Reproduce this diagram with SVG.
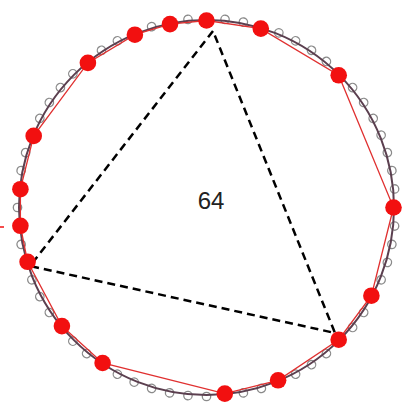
<svg xmlns="http://www.w3.org/2000/svg" width="405" height="405" viewBox="0 0 405 405">
<style>
.g{fill:#fff;stroke:#8a8a8a;stroke-width:1.3}
.r{fill:#f21010}
.ring{fill:none;stroke:#5b3f4f;stroke-width:2}
.poly{fill:none;stroke:#e03030;stroke-width:1.3}
.tri{fill:none;stroke:#000;stroke-width:2.5;stroke-dasharray:8 5}
.lbl{font-family:"Liberation Sans",Arial,sans-serif;font-size:24px;fill:#222;text-anchor:middle}
</style>
<defs>
<circle id="gc" class="g" cx="395.5" cy="207.5" r="4.2"/>
</defs>
<rect width="405" height="405" fill="#fff"/>
<g id="ring-nodes">
<use href="#gc" transform="rotate(0 206.5 207.5)"/><use href="#gc" transform="rotate(5.625 206.5 207.5)"/><use href="#gc" transform="rotate(11.25 206.5 207.5)"/><use href="#gc" transform="rotate(16.875 206.5 207.5)"/>
<use href="#gc" transform="rotate(22.5 206.5 207.5)"/><use href="#gc" transform="rotate(28.125 206.5 207.5)"/><use href="#gc" transform="rotate(33.75 206.5 207.5)"/><use href="#gc" transform="rotate(39.375 206.5 207.5)"/>
<use href="#gc" transform="rotate(45 206.5 207.5)"/><use href="#gc" transform="rotate(50.625 206.5 207.5)"/><use href="#gc" transform="rotate(56.25 206.5 207.5)"/><use href="#gc" transform="rotate(61.875 206.5 207.5)"/>
<use href="#gc" transform="rotate(67.5 206.5 207.5)"/><use href="#gc" transform="rotate(73.125 206.5 207.5)"/><use href="#gc" transform="rotate(78.75 206.5 207.5)"/><use href="#gc" transform="rotate(84.375 206.5 207.5)"/>
<use href="#gc" transform="rotate(90 206.5 207.5)"/><use href="#gc" transform="rotate(95.625 206.5 207.5)"/><use href="#gc" transform="rotate(101.25 206.5 207.5)"/><use href="#gc" transform="rotate(106.875 206.5 207.5)"/>
<use href="#gc" transform="rotate(112.5 206.5 207.5)"/><use href="#gc" transform="rotate(118.125 206.5 207.5)"/><use href="#gc" transform="rotate(123.75 206.5 207.5)"/><use href="#gc" transform="rotate(129.375 206.5 207.5)"/>
<use href="#gc" transform="rotate(135 206.5 207.5)"/><use href="#gc" transform="rotate(140.625 206.5 207.5)"/><use href="#gc" transform="rotate(146.25 206.5 207.5)"/><use href="#gc" transform="rotate(151.875 206.5 207.5)"/>
<use href="#gc" transform="rotate(157.5 206.5 207.5)"/><use href="#gc" transform="rotate(163.125 206.5 207.5)"/><use href="#gc" transform="rotate(168.75 206.5 207.5)"/><use href="#gc" transform="rotate(174.375 206.5 207.5)"/>
<use href="#gc" transform="rotate(180 206.5 207.5)"/><use href="#gc" transform="rotate(185.625 206.5 207.5)"/><use href="#gc" transform="rotate(191.25 206.5 207.5)"/><use href="#gc" transform="rotate(196.875 206.5 207.5)"/>
<use href="#gc" transform="rotate(202.5 206.5 207.5)"/><use href="#gc" transform="rotate(208.125 206.5 207.5)"/><use href="#gc" transform="rotate(213.75 206.5 207.5)"/><use href="#gc" transform="rotate(219.375 206.5 207.5)"/>
<use href="#gc" transform="rotate(225 206.5 207.5)"/><use href="#gc" transform="rotate(230.625 206.5 207.5)"/><use href="#gc" transform="rotate(236.25 206.5 207.5)"/><use href="#gc" transform="rotate(241.875 206.5 207.5)"/>
<use href="#gc" transform="rotate(247.5 206.5 207.5)"/><use href="#gc" transform="rotate(253.125 206.5 207.5)"/><use href="#gc" transform="rotate(258.75 206.5 207.5)"/><use href="#gc" transform="rotate(264.375 206.5 207.5)"/>
<use href="#gc" transform="rotate(270 206.5 207.5)"/><use href="#gc" transform="rotate(275.625 206.5 207.5)"/><use href="#gc" transform="rotate(281.25 206.5 207.5)"/><use href="#gc" transform="rotate(286.875 206.5 207.5)"/>
<use href="#gc" transform="rotate(292.5 206.5 207.5)"/><use href="#gc" transform="rotate(298.125 206.5 207.5)"/><use href="#gc" transform="rotate(303.75 206.5 207.5)"/><use href="#gc" transform="rotate(309.375 206.5 207.5)"/>
<use href="#gc" transform="rotate(315 206.5 207.5)"/><use href="#gc" transform="rotate(320.625 206.5 207.5)"/><use href="#gc" transform="rotate(326.25 206.5 207.5)"/><use href="#gc" transform="rotate(331.875 206.5 207.5)"/>
<use href="#gc" transform="rotate(337.5 206.5 207.5)"/><use href="#gc" transform="rotate(343.125 206.5 207.5)"/><use href="#gc" transform="rotate(348.75 206.5 207.5)"/><use href="#gc" transform="rotate(354.375 206.5 207.5)"/>
</g>
<g id="connectors">
<circle class="ring" cx="206.5" cy="207.5" r="187.5"/>
<polygon class="poly" points="393.5,207.5 371.4,295.7 338.7,339.7 278.1,380.3 224.8,393.6 102.6,363 61.9,326.1 27.6,261.8 20.4,225.8 20.4,189.2 33.7,135.9 87.9,62.9 134.9,34.7 170,24.1 206.5,20.5 260.8,28.6 338.7,75.3"/>
<polygon id="triangle" class="tri" points="213,31 30,266 335,333"/>
<line x1="0" y1="227" x2="4" y2="227" stroke="#f21010" stroke-width="1.5"/>
</g>
<g id="red-nodes">
<circle class="r" cx="393.5" cy="207.5" r="8.3"/>
<circle class="r" cx="371.4" cy="295.7" r="8.3"/>
<circle class="r" cx="338.7" cy="339.7" r="8.3"/>
<circle class="r" cx="278.1" cy="380.3" r="8.3"/>
<circle class="r" cx="224.8" cy="393.6" r="8.3"/>
<circle class="r" cx="102.6" cy="363" r="8.3"/>
<circle class="r" cx="61.9" cy="326.1" r="8.3"/>
<circle class="r" cx="27.6" cy="261.8" r="8.3"/>
<circle class="r" cx="20.4" cy="225.8" r="8.3"/>
<circle class="r" cx="20.4" cy="189.2" r="8.3"/>
<circle class="r" cx="33.7" cy="135.9" r="8.3"/>
<circle class="r" cx="87.9" cy="62.9" r="8.3"/>
<circle class="r" cx="134.9" cy="34.7" r="8.3"/>
<circle class="r" cx="170" cy="24.1" r="8.3"/>
<circle class="r" cx="206.5" cy="20.5" r="8.3"/>
<circle class="r" cx="260.8" cy="28.6" r="8.3"/>
<circle class="r" cx="338.7" cy="75.3" r="8.3"/>
</g>
<g id="label">
<text class="lbl" x="211" y="209">64</text>
</g>
</svg>
